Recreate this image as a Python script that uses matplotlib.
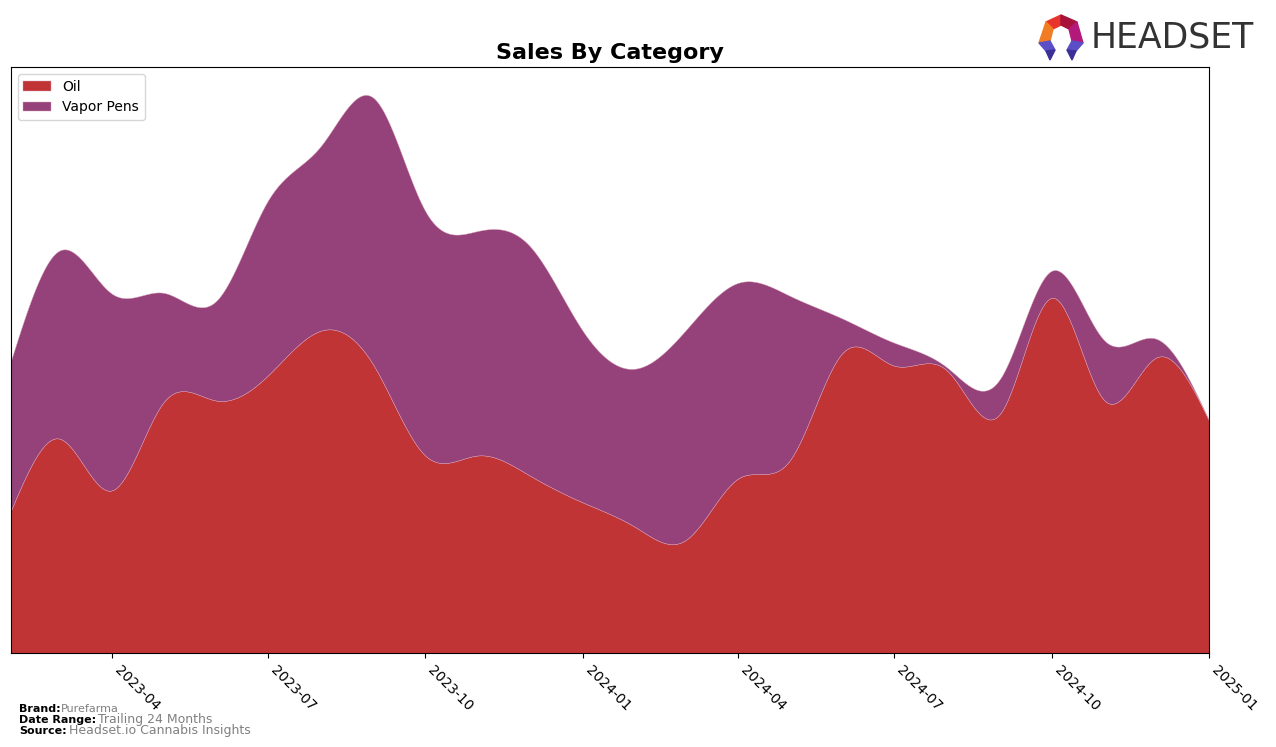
import numpy as np
import pandas as pd
import matplotlib
matplotlib.use("Agg")
import matplotlib.pyplot as plt
import matplotlib.dates as mdates
from matplotlib.patches import Polygon

months = pd.date_range("2023-02-01", "2025-01-01", freq="MS")
oil = [143, 215, 163, 251, 253, 278, 323, 288, 198, 198, 178, 151,
       126, 113, 175, 193, 301, 288, 283, 240, 356, 253, 296, 233]
vapor_pens = [150, 188, 197, 110, 100, 175, 185, 268, 245, 225, 230, 172,
              159, 210, 196, 165, 34, 23, 3, 35, 27, 60, 19, 0]
labels = ["Oil", "Vapor Pens"]
colors = ["#c13435", "#96427a"]


def spline(x, y, xs):
    # natural cubic spline, plain numpy
    x = np.asarray(x, float)
    y = np.asarray(y, float)
    n = len(x)
    h = np.diff(x)
    A = np.zeros((n, n))
    r = np.zeros(n)
    A[0, 0] = A[-1, -1] = 1
    for i in range(1, n - 1):
        A[i, i - 1] = h[i - 1]
        A[i, i] = 2 * (h[i - 1] + h[i])
        A[i, i + 1] = h[i]
        r[i] = 3 * ((y[i + 1] - y[i]) / h[i] - (y[i] - y[i - 1]) / h[i - 1])
    c = np.linalg.solve(A, r)
    b = (y[1:] - y[:-1]) / h - h * (2 * c[:-1] + c[1:]) / 3
    d = (c[1:] - c[:-1]) / (3 * h)
    k = np.clip(np.searchsorted(x, xs) - 1, 0, n - 2)
    t = xs - x[k]
    return y[k] + b[k] * t + c[k] * t ** 2 + d[k] * t ** 3


xn = mdates.date2num(months)
xs = np.linspace(xn[0], xn[-1], 600)
oil_s = np.clip(spline(xn, oil, xs), 0, None)
vap_s = np.clip(spline(xn, vapor_pens, xs), 0, None)

fig = plt.figure(figsize=(12.76, 7.47), dpi=100)
ax = fig.add_axes([0.0086, 0.1258, 0.9389, 0.7845])
ax.stackplot(mdates.num2date(xs), oil_s, vap_s, labels=labels, colors=colors,
             edgecolor="#d9a0b8", linewidth=0.3)
ax.set_xlim(months[0], months[-1])
ax.set_ylim(0, None)
ax.margins(x=0)
ax.set_yticks([])
ax.xaxis.set_major_locator(mdates.MonthLocator(bymonth=[1, 4, 7, 10]))
ax.xaxis.set_major_formatter(mdates.DateFormatter("%Y-%m"))
plt.setp(ax.get_xticklabels(), rotation=-45, ha="left", fontsize=10)
ax.set_title("Sales By Category", fontsize=16, fontweight="bold")
ax.legend(loc="upper left", fontsize=10)

# footer
fig.text(0.015, 0.047, "Brand:", fontsize=8, fontweight="bold")
fig.text(0.048, 0.047, "Purefarma", fontsize=8, color="gray")
fig.text(0.015, 0.032, "Date Range:", fontsize=8, fontweight="bold")
fig.text(0.077, 0.032, "Trailing 24 Months", fontsize=9, color="gray")
fig.text(0.015, 0.018, "Source:", fontsize=8, fontweight="bold")
fig.text(0.054, 0.018, "Headset.io Cannabis Insights", fontsize=9, color="gray")

# logo
W, H = 1276, 747
def px(pts):
    return [(x / W, 1 - y / H) for x, y in pts]

ring = [("#e8352b", [(1046, 22), (1061, 15), (1061, 25), (1053, 29)]),
        ("#a8123a", [(1061, 15), (1077, 22), (1069, 29), (1061, 25)]),
        ("#f07d24", [(1046, 22), (1053, 29), (1050, 41), (1039, 43)]),
        ("#b3197a", [(1077, 22), (1083, 43), (1072, 41), (1069, 29)]),
        ("#5b4fc8", [(1039, 43), (1050, 41), (1055, 50), (1046, 51)]),
        ("#3c2f96", [(1046, 51), (1055, 50), (1050, 60)]),
        ("#5b4fc8", [(1072, 41), (1083, 43), (1076, 51), (1067, 50)]),
        ("#3c2f96", [(1067, 50), (1076, 51), (1072, 60)])]
for c, pts in ring:
    fig.patches.append(Polygon(px(pts), closed=True, color=c, transform=fig.transFigure))
fig.text(1091 / W, 1 - 38 / H, "HEADSET", fontsize=25, color="#333333", va="center")

fig.savefig("out.png", dpi=100)
